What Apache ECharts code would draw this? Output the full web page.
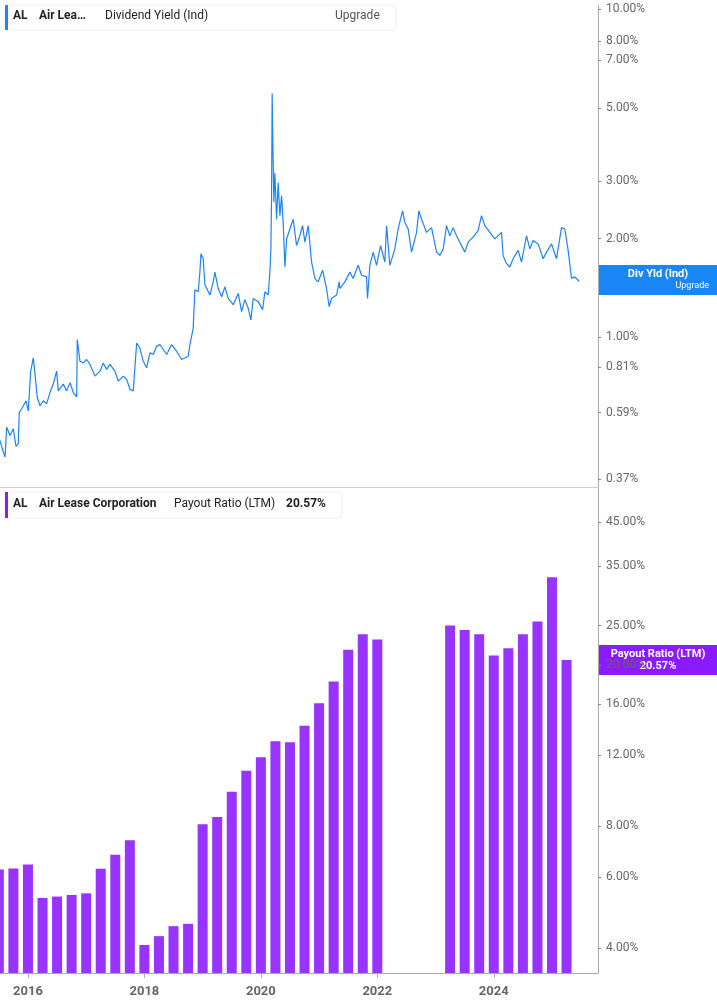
<!DOCTYPE html>
<html>
<head>
<meta charset="utf-8">
<script src="https://cdn.jsdelivr.net/npm/echarts@6/dist/echarts.min.js"></script>
<style>
  html, body { margin: 0; padding: 0; background: #fff; }
  #charts { width: 717px; height: 1005px; }
</style>
</head>
<body>
<div id="charts"></div>
<script>
// dividend yield (%), x in decimal years
var yieldYears = [2015.520, 2015.577, 2015.606, 2015.635, 2015.692, 2015.748, 2015.795, 2015.834, 2015.851, 2015.893,
  2015.966, 2016.006, 2016.047, 2016.092, 2016.121, 2016.160, 2016.207, 2016.263, 2016.322, 2016.378,
  2016.435, 2016.493, 2016.521, 2016.607, 2016.665, 2016.722, 2016.778, 2016.837, 2016.847, 2016.893,
  2016.950, 2017.008, 2017.065, 2017.151, 2017.237, 2017.293, 2017.352, 2017.408, 2017.494, 2017.551,
  2017.637, 2017.695, 2017.752, 2017.808, 2017.867, 2017.923, 2017.980, 2018.038, 2018.095, 2018.152,
  2018.210, 2018.267, 2018.382, 2018.468, 2018.553, 2018.639, 2018.752, 2018.782, 2018.838, 2018.867,
  2018.924, 2018.953, 2018.971, 2019.010, 2019.039, 2019.125, 2019.182, 2019.211, 2019.267, 2019.326,
  2019.383, 2019.439, 2019.525, 2019.611, 2019.669, 2019.726, 2019.783, 2019.829, 2019.868, 2019.954,
  2020.030, 2020.069, 2020.126, 2020.155, 2020.172, 2020.184, 2020.194, 2020.206, 2020.223, 2020.241,
  2020.270, 2020.297, 2020.327, 2020.356, 2020.383, 2020.413, 2020.442, 2020.498, 2020.555, 2020.613,
  2020.670, 2020.716, 2020.756, 2020.813, 2020.871, 2020.928, 2020.984, 2021.060, 2021.128, 2021.173,
  2021.214, 2021.300, 2021.345, 2021.357, 2021.443, 2021.529, 2021.585, 2021.671, 2021.730, 2021.815,
  2021.832, 2021.872, 2021.929, 2021.987, 2022.056, 2022.129, 2022.159, 2022.215, 2022.301, 2022.358,
  2022.433, 2022.473, 2022.530, 2022.588, 2022.674, 2022.713, 2022.760, 2022.845, 2022.931, 2023.017,
  2023.074, 2023.131, 2023.189, 2023.245, 2023.302, 2023.360, 2023.417, 2023.503, 2023.560, 2023.645,
  2023.731, 2023.789, 2023.846, 2023.932, 2024.018, 2024.133, 2024.160, 2024.219, 2024.275, 2024.332,
  2024.418, 2024.476, 2024.562, 2024.619, 2024.676, 2024.762, 2024.848, 2024.906, 2024.992, 2025.077,
  2025.163, 2025.220, 2025.277, 2025.335, 2025.391, 2025.465];
var yieldValues = [0.485, 0.447, 0.432, 0.532, 0.502, 0.527, 0.465, 0.475, 0.591, 0.606,
  0.641, 0.597, 0.789, 0.866, 0.773, 0.656, 0.619, 0.641, 0.628, 0.679,
  0.721, 0.789, 0.687, 0.721, 0.687, 0.728, 0.679, 0.659, 0.984, 0.846,
  0.836, 0.856, 0.827, 0.762, 0.789, 0.836, 0.799, 0.827, 0.789, 0.736,
  0.762, 0.745, 0.695, 0.687, 0.961, 0.928, 0.846, 0.808, 0.897, 0.887,
  0.939, 0.951, 0.887, 0.951, 0.907, 0.856, 0.876, 0.951, 1.067, 1.396,
  1.377, 1.582, 1.798, 1.736, 1.446, 1.346, 1.476, 1.582, 1.409, 1.330,
  1.426, 1.314, 1.258, 1.361, 1.198, 1.303, 1.226, 1.131, 1.314, 1.285,
  1.215, 1.377, 1.346, 1.582, 1.861, 2.70, 5.54, 3.91, 2.58, 3.17,
  2.29, 2.96, 2.35, 2.70, 2.24, 1.639, 1.995, 2.14, 2.29, 1.905,
  2.04, 2.19, 1.95, 2.19, 1.697, 1.511, 1.476, 1.602, 1.409, 1.241,
  1.314, 1.346, 1.476, 1.409, 1.476, 1.582, 1.511, 1.658, 1.547, 1.529,
  1.314, 1.658, 1.819, 1.658, 1.905, 1.697, 2.19, 1.658, 1.861, 2.14,
  2.43, 2.24, 2.14, 1.819, 2.09, 2.43, 2.29, 2.09, 2.16, 1.819,
  1.777, 1.861, 2.19, 2.04, 2.16, 2.04, 1.95, 1.819, 1.95, 2.02,
  2.115, 2.35, 2.19, 2.09, 1.995, 2.09, 1.777, 1.677, 1.639, 1.736,
  1.841, 1.697, 2.04, 1.861, 1.973, 1.927, 1.736, 1.819, 1.927, 1.736,
  2.16, 2.14, 1.841, 1.511, 1.529, 1.483];

// payout ratio (LTM, %), quarter ends
var payoutYears = [2015.50, 2015.75, 2016.00, 2016.25, 2016.50, 2016.75, 2017.00, 2017.25, 2017.50, 2017.75,
  2018.00, 2018.25, 2018.50, 2018.75, 2019.00, 2019.25, 2019.50, 2019.75, 2020.00, 2020.25,
  2020.50, 2020.75, 2021.00, 2021.25, 2021.50, 2021.75, 2022.00,
  2023.25, 2023.50, 2023.75, 2024.00, 2024.25, 2024.50, 2024.75, 2025.00, 2025.25];
var payoutValues = [6.26, 6.30, 6.44, 5.33, 5.37, 5.42, 5.47, 6.29, 6.81, 7.39,
  4.08, 4.29, 4.54, 4.60, 8.10, 8.44, 9.74, 10.97, 11.84, 12.97,
  12.90, 14.16, 16.10, 18.20, 21.80, 23.80, 23.10,
  25.00, 24.40, 23.80, 21.10, 22.00, 23.80, 25.60, 32.90, 20.57];

var yearTicks = [2016, 2018, 2020, 2022, 2024];
var yieldTicks = [0.37, 0.59, 0.81, 1, 2, 3, 5, 7, 8, 10];
var payoutTicks = [4, 6, 8, 12, 16, 20, 25, 35, 45];

var myChart = echarts.init(document.getElementById('charts'));

function pairs(xs, ys) {
    var arr = [];
    xs.forEach((x, i) => arr.push([x, ys[i]]));
    return arr;
}

var pct = v => v.toFixed(2) + '%';
var labelStyle = { color: '#666', fontSize: 12, fontFamily: 'Roboto', margin: 8 };

var option = {
    animation: false,
    grid: [
        { left: 0, right: 119, top: 5, height: 482 },
        { left: 0, right: 119, top: 488, bottom: 32 }
    ],
    xAxis: [
        { type: 'value', gridIndex: 0, min: 2015.52, max: 2025.79, axisLine: { show: true, lineStyle: { color: '#ccc' } },
          axisTick: { show: false }, axisLabel: { show: false }, splitLine: { show: false } },
        { type: 'value', gridIndex: 1, min: 2015.52, max: 2025.79,
          axisLine: { show: true, lineStyle: { color: '#aaa' } },
          axisTick: { show: true, customValues: yearTicks, length: 5, lineStyle: { color: '#aaa' } },
          axisLabel: { customValues: yearTicks, formatter: v => String(v), color: '#666', fontSize: 13, fontWeight: 'bold', fontFamily: 'Roboto', margin: 12 },
          splitLine: { show: false } }
    ],
    yAxis: [
        { type: 'log', gridIndex: 0, position: 'right', min: 0.35, max: 10.3,
          axisLine: { show: true, lineStyle: { color: '#aaa' } },
          axisTick: { show: true, customValues: yieldTicks, length: 3, lineStyle: { color: '#888' } },
          axisLabel: Object.assign({ customValues: yieldTicks, formatter: pct }, labelStyle),
          splitLine: { show: false } },
        { type: 'log', gridIndex: 1, position: 'right', min: 3.48, max: 54.6,
          axisLine: { show: true, lineStyle: { color: '#aaa' } },
          axisTick: { show: true, customValues: payoutTicks, length: 3, lineStyle: { color: '#888' } },
          axisLabel: Object.assign({ customValues: payoutTicks, formatter: pct }, labelStyle),
          splitLine: { show: false } }
    ],
    series: [
        { type: 'line', xAxisIndex: 0, yAxisIndex: 0, data: pairs(yieldYears, yieldValues),
          showSymbol: false, lineStyle: { color: '#1a85f5', width: 1.2 } },
        { type: 'bar', xAxisIndex: 1, yAxisIndex: 1, data: pairs(payoutYears, payoutValues),
          barWidth: 10, itemStyle: { color: '#9933ff' } }
    ],
    graphic: [
        { type: 'rect', shape: { x: 5, y: 5, width: 391, height: 25, r: 3 }, style: { fill: '#fff', stroke: '#eee' } },
        { type: 'rect', shape: { x: 5, y: 5, width: 3, height: 25 }, style: { fill: '#1a85f5' } },
        { type: 'text', x: 13, y: 10, style: { text: 'AL', font: 'bold 12px Roboto', fill: '#222' } },
        { type: 'text', x: 39, y: 10, style: { text: 'Air Lea…', font: 'bold 12px Roboto', fill: '#222' } },
        { type: 'text', x: 105, y: 10, style: { text: 'Dividend Yield (Ind)', font: '12px Roboto', fill: '#222' } },
        { type: 'text', x: 335, y: 10, style: { text: 'Upgrade', font: '12px Roboto', fill: '#555' } },

        { type: 'rect', shape: { x: 5, y: 492, width: 337, height: 26, r: 3 }, style: { fill: '#fff', stroke: '#eee' } },
        { type: 'rect', shape: { x: 5, y: 492, width: 3, height: 26 }, style: { fill: '#8c1aff' } },
        { type: 'text', x: 13, y: 498, style: { text: 'AL', font: 'bold 12px Roboto', fill: '#222' } },
        { type: 'text', x: 39, y: 498, style: { text: 'Air Lease Corporation', font: 'bold 12px Roboto', fill: '#222' } },
        { type: 'text', x: 174, y: 498, style: { text: 'Payout Ratio (LTM)', font: '12px Roboto', fill: '#222' } },
        { type: 'text', x: 286, y: 498, style: { text: '20.57%', font: 'bold 12px Roboto', fill: '#222' } },

        { type: 'rect', shape: { x: 598, y: 265, width: 119, height: 30 }, style: { fill: '#1a85f5' } },
        { type: 'text', x: 658, y: 269, style: { text: 'Div Yld (Ind)', font: 'bold 11px Roboto', fill: '#fff', textAlign: 'center' } },
        { type: 'text', x: 709, y: 281, style: { text: 'Upgrade', font: '9px Roboto', fill: '#fff', textAlign: 'right' } },

        { type: 'rect', shape: { x: 598, y: 645, width: 119, height: 30 }, style: { fill: '#8c1aff' } },
        { type: 'text', x: 658, y: 649, style: { text: 'Payout Ratio (LTM)', font: 'bold 11px Roboto', fill: '#fff', textAlign: 'center' } },
        { type: 'text', x: 658, y: 661, style: { text: '20.57%', font: 'bold 11px Roboto', fill: '#fff', textAlign: 'center' } }
    ]
};

myChart.setOption(option);
</script>
</body>
</html>
